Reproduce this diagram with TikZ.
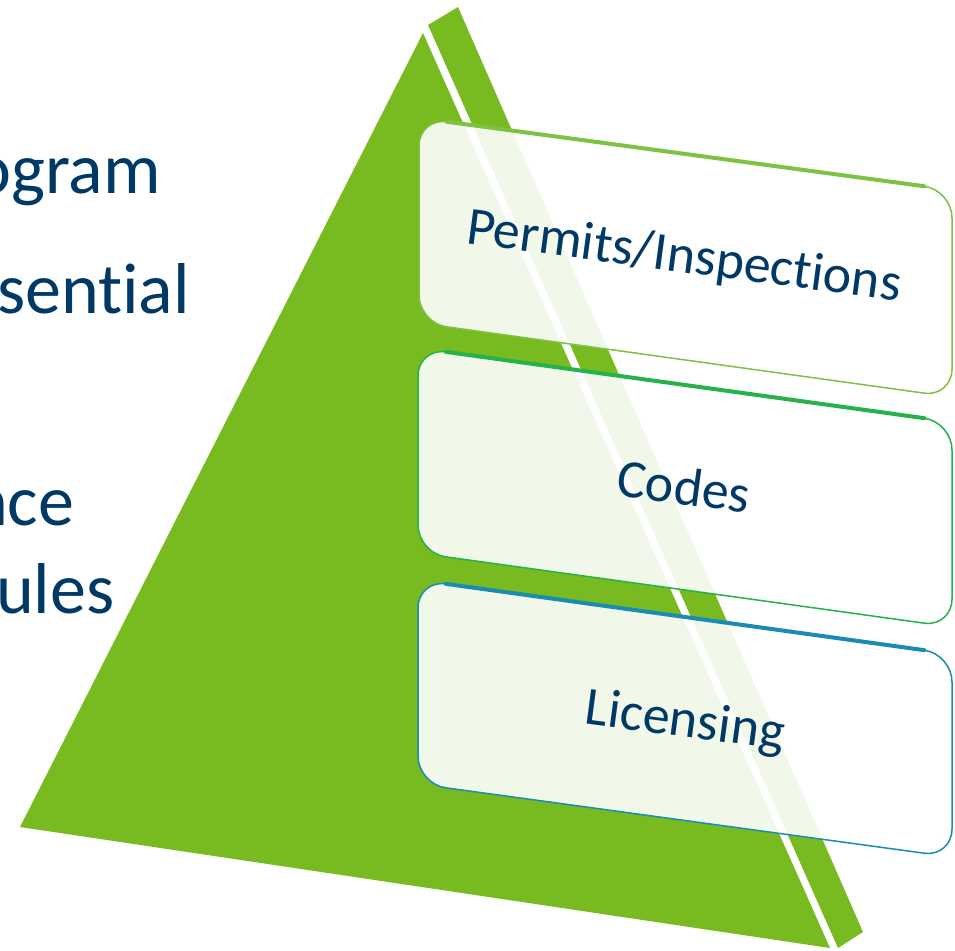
\documentclass[tikz,border=0pt]{standalone}
\usepackage{fontspec}
\setmainfont{Carlito}[Ligatures=NoCommon]
\usepackage{tkz-euclide}
\usetikzlibrary{calc}
\definecolor{pyrgreen}{RGB}{120,187,32}
\definecolor{permgreen}{RGB}{125,194,66}
\definecolor{codegreen}{RGB}{38,178,74}
\definecolor{licblue}{RGB}{26,140,178}
\definecolor{textblue}{RGB}{0,56,102}
\tikzset{
  panel/.style={rounded corners=28pt, fill=white, fill opacity=0.9, draw=#1, line width=1.5pt},
  paneltop/.style={draw=#1, line width=4pt, line cap=round},
  panellabel/.style={text=textblue, font=\fontsize{54}{60}\selectfont, rotate=-7.6},
  sidelabel/.style={text=textblue, font=\fontsize{72}{86}\selectfont, anchor=base west, inner sep=0pt}
}
\begin{document}
\begin{tikzpicture}[x=1pt,y=-1pt]
  \useasboundingbox (0,0) rectangle (955,950);
  % Points
  \tkzDefPoint(20,827){fl}
  \tkzDefPoint(423,33){ft}
  \tkzDefPoint(830,948){fr}
  \tkzDefPoint(428,25){sl}
  \tkzDefPoint(458,7){st}
  \tkzDefPoint(863,932){sr}
  \tkzDefPoint(838,948){sb}
  \tkzDefPoint(419,118){pa}
  \tkzDefPoint(952,190){pb}
  \tkzDefPoint(952,397){pc}
  \tkzDefPoint(419,323){pd}
  \tkzDefPoint(418,348){ca}
  \tkzDefPoint(952,422){cb}
  \tkzDefPoint(952,627){cc}
  \tkzDefPoint(418,553){cd}
  \tkzDefPoint(418,580){la}
  \tkzDefPoint(952,654){lb}
  \tkzDefPoint(952,857){lc}
  \tkzDefPoint(418,784){ld}
  % Drawing
  \fill[pyrgreen] (fl) -- (ft) -- (fr) -- cycle;
  \fill[pyrgreen] (sl) -- (st) -- (sr) -- (sb) -- cycle;
  \draw[panel=permgreen] (pa) -- (pb) -- (pc) -- (pd) -- cycle;
  \draw[paneltop=permgreen] ($(pa)!28pt!(pb)$) -- ($(pb)!28pt!(pa)$);
  \draw[panel=codegreen] (ca) -- (cb) -- (cc) -- (cd) -- cycle;
  \draw[paneltop=codegreen] ($(ca)!28pt!(cb)$) -- ($(cb)!28pt!(ca)$);
  \draw[panel=licblue] (la) -- (lb) -- (lc) -- (ld) -- cycle;
  \draw[paneltop=licblue] ($(la)!28pt!(lb)$) -- ($(lb)!28pt!(la)$);
  % Labels
  \node[panellabel] (perm) at (684,258) {Permits/Inspections};
  \node[panellabel] (code) at (684,486) {Codes};
  \node[panellabel] (lic) at (685,723) {Licensing};
  \node[sidelabel] (prog) at (-27,193) {ogram};
  \node[sidelabel] (ess) at (-3,313) {sential};
  \node[sidelabel] (comp) at (-30,525) {nce};
  \node[sidelabel] (rul) at (-4,613) {ules};
\end{tikzpicture}
\end{document}
